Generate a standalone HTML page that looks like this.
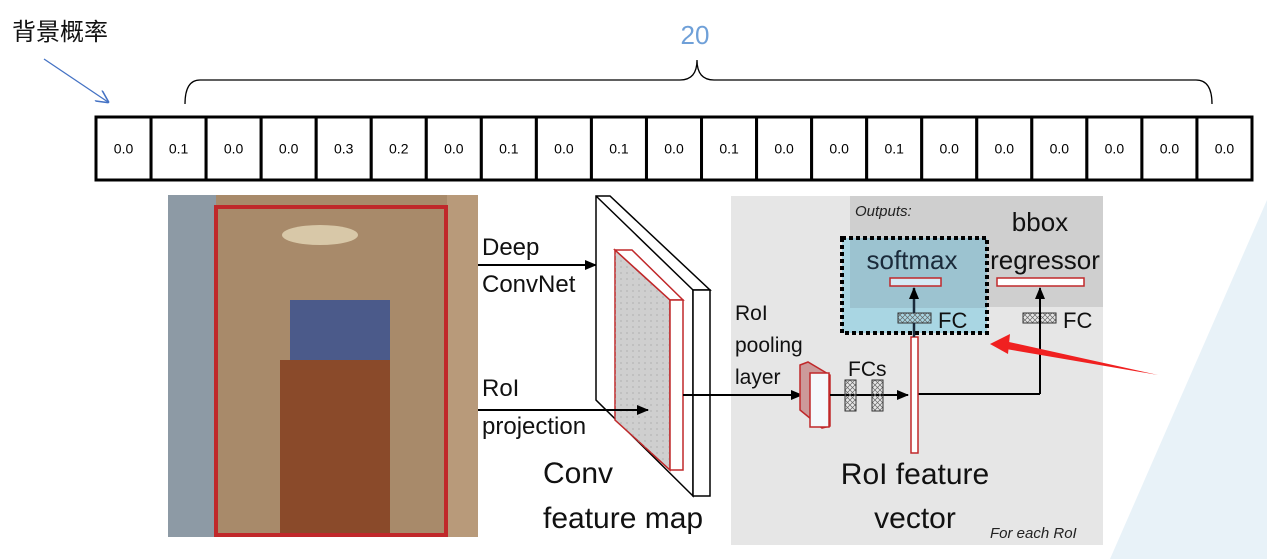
<!DOCTYPE html>
<html><head><meta charset="utf-8"><style>
body{margin:0;background:#fff;width:1267px;height:559px;overflow:hidden}
svg{display:block}
text{font-family:"Liberation Sans","Noto Sans CJK SC",sans-serif}
</style></head><body>
<svg id="s" width="1267" height="559" viewBox="0 0 1267 559">
<defs>
<pattern id="dots" width="6" height="6" patternUnits="userSpaceOnUse"><circle cx="3" cy="3" r="0.6" fill="#999"/></pattern>
<pattern id="hatch" width="5" height="5" patternUnits="userSpaceOnUse"><path d="M0,0L5,5M5,0L0,5" stroke="#666" stroke-width="0.7"/></pattern>
<marker id="ah" markerUnits="userSpaceOnUse" markerWidth="12" markerHeight="10" refX="11" refY="5" orient="auto"><path d="M0,0L12,5L0,10z" fill="#000"/></marker>
<marker id="ab" markerWidth="10" markerHeight="10" refX="9" refY="5" orient="auto"><path d="M0,0L10,5L0,10" fill="none" stroke="#4472c4" stroke-width="1.2"/></marker>
</defs>
<polygon points="1267,200 1267,559 1110,559" fill="#e8f2f8"/>
<text x="12" y="40" font-size="24" fill="#111">背景概率</text>
<line x1="44" y1="59" x2="108" y2="102" stroke="#4472c4" stroke-width="1.3" marker-end="url(#ab)"/>
<text x="695" y="44" font-size="26" fill="#6fa0d8" text-anchor="middle">20</text>
<path d="M185,104 Q185,80 200,80 L680,80 Q697,80 697,60 Q697,80 714,80 L1196,80 Q1212,80 1212,104" fill="none" stroke="#000" stroke-width="1.3"/>
<g id="cells"></g>

<g>
<rect x="168" y="195" width="310" height="342" fill="#a88a6a"/>
<rect x="168" y="195" width="48" height="342" fill="#8d9aa5"/>
<rect x="447" y="195" width="31" height="342" fill="#b89a7a"/>
<rect x="290" y="300" width="100" height="160" fill="#4b5a8a"/>
<rect x="280" y="360" width="110" height="175" fill="#8a4a2a"/>
<ellipse cx="320" cy="235" rx="38" ry="10" fill="#d8c8a8"/>
<rect x="216" y="207" width="230" height="328" fill="none" stroke="#c0282a" stroke-width="4"/>
</g>

<text x="482" y="255" font-size="24" fill="#111">Deep</text>
<text x="482" y="292" font-size="24" fill="#111">ConvNet</text>
<line x1="478" y1="265" x2="596" y2="265" stroke="#000" stroke-width="2" marker-end="url(#ah)"/>
<text x="482" y="396" font-size="24" fill="#111">RoI</text>
<text x="482" y="434" font-size="24" fill="#111">projection</text>

<g>
<polygon points="596,196 610,196 710,290 693,290 693,496 596,400" fill="#fff" stroke="#000" stroke-width="1.5"/>
<line x1="693" y1="290" x2="596" y2="196" stroke="#000" stroke-width="1.5"/>
<rect x="693" y="290" width="17" height="206" fill="#fff" stroke="#000" stroke-width="1.5"/>
<polygon points="615,250 670,300 670,470 615,420" fill="#cfcfcf" stroke="#c0282a" stroke-width="1.5"/>
<polygon points="615,420 670,470 670,300 615,250" fill="url(#dots)"/>
<polygon points="615,250 632,250 683,300 670,300" fill="#fff" stroke="#c0282a" stroke-width="1.5"/>
<rect x="670" y="300" width="13" height="170" fill="#fff" stroke="#c0282a" stroke-width="1.5"/>
</g>
<line x1="478" y1="410" x2="648" y2="410" stroke="#000" stroke-width="2" marker-end="url(#ah)"/>
<text x="543" y="483" font-size="30" fill="#111">Conv</text>
<text x="543" y="528" font-size="30" fill="#111">feature map</text>

<rect x="731" y="196" width="372" height="349" fill="#e6e6e6"/>
<rect x="850" y="196" width="253" height="111" fill="#cfcfcf"/>
<text x="855" y="216" font-size="15" font-style="italic" fill="#222">Outputs:</text>
<rect x="842" y="238" width="145" height="95" fill="#a9d6e3"/>
<rect x="850" y="238" width="137" height="70" fill="#9cc3d0"/>
<rect x="842" y="238" width="145" height="95" fill="none" stroke="#000" stroke-width="4" stroke-dasharray="4,3"/>
<text x="912" y="269" font-size="26" fill="#1a2a3a" text-anchor="middle">softmax</text>
<text x="1040" y="231" font-size="26" fill="#111" text-anchor="middle">bbox</text>
<text x="1045" y="269" font-size="26" fill="#111" text-anchor="middle">regressor</text>
<rect x="890" y="278" width="51" height="8" fill="#d8eaf5" stroke="#c0282a" stroke-width="1.5"/>
<rect x="997" y="278" width="87" height="8" fill="#fff" stroke="#c0282a" stroke-width="1.5"/>
<rect x="898" y="313" width="33" height="10" fill="url(#hatch)" stroke="#333"/>
<rect x="1023" y="313" width="33" height="10" fill="url(#hatch)" stroke="#333"/>
<text x="938" y="328" font-size="22" fill="#111">FC</text>
<text x="1063" y="328" font-size="22" fill="#111">FC</text>
<line x1="914" y1="313" x2="914" y2="288" stroke="#1a2a3a" stroke-width="2.5" marker-end="url(#ah)"/>
<line x1="1040" y1="394" x2="1040" y2="288" stroke="#000" stroke-width="2" marker-end="url(#ah)"/>
<line x1="918" y1="394" x2="1040" y2="394" stroke="#000" stroke-width="2"/>
<text x="735" y="320" font-size="21" fill="#111">RoI</text>
<text x="735" y="352" font-size="21" fill="#111">pooling</text>
<text x="735" y="384" font-size="21" fill="#111">layer</text>
<line x1="683" y1="395" x2="802" y2="395" stroke="#000" stroke-width="2" marker-end="url(#ah)"/>
<g>
<polygon points="800,365 808,362 830,375 830,426 822,428 800,410" fill="#cc9a9a" stroke="#c0282a" stroke-width="1.5"/>
<rect x="810" y="373" width="19" height="54" fill="#f4f8fb" stroke="#c0282a" stroke-width="1.5"/>
</g>
<text x="848" y="376" font-size="21" fill="#111">FCs</text>
<line x1="830" y1="395" x2="908" y2="395" stroke="#000" stroke-width="2" marker-end="url(#ah)"/>
<rect x="845" y="380" width="11" height="31" fill="url(#hatch)" stroke="#333"/>
<rect x="872" y="380" width="11" height="31" fill="url(#hatch)" stroke="#333"/>
<rect x="911" y="337" width="7" height="116" fill="#fff" stroke="#c0282a" stroke-width="1.5"/>
<line x1="914" y1="337" x2="914" y2="323" stroke="#1a2a3a" stroke-width="2.5"/>
<text x="915" y="484" font-size="30" fill="#111" text-anchor="middle">RoI feature</text>
<text x="915" y="528" font-size="30" fill="#111" text-anchor="middle">vector</text>
<text x="990" y="538" font-size="15" font-style="italic" fill="#222">For each RoI</text>
<polygon points="1158,375 1000,340 1000,348" fill="#f02020"/>
<polygon points="990,344 1010,334 1008,354" fill="#f02020"/>
</svg>
<script>
const probs=["0.0","0.1","0.0","0.0","0.3","0.2","0.0","0.1","0.0","0.1","0.0","0.1","0.0","0.0","0.1","0.0","0.0","0.0","0.0","0.0","0.0"];
const g=document.getElementById('cells');
const x0=96,x1=1252,cy=117,ch=63,cw=(x1-x0)/probs.length;
probs.forEach((v,i)=>{
 const r=document.createElementNS('http://www.w3.org/2000/svg','rect');
 r.setAttribute('x',x0+i*cw);r.setAttribute('y',cy);r.setAttribute('width',cw);r.setAttribute('height',ch);
 r.setAttribute('fill','#fff');r.setAttribute('stroke','#000');r.setAttribute('stroke-width','3');
 
 
 g.appendChild(r);
 const t=document.createElementNS('http://www.w3.org/2000/svg','text');
 t.setAttribute('x',x0+i*cw+cw/2);t.setAttribute('y',cy+ch/2+5);t.setAttribute('text-anchor','middle');t.setAttribute('font-size','14');
 t.textContent=v;
 
 
 g.appendChild(t);
});
</script>
</body></html>
